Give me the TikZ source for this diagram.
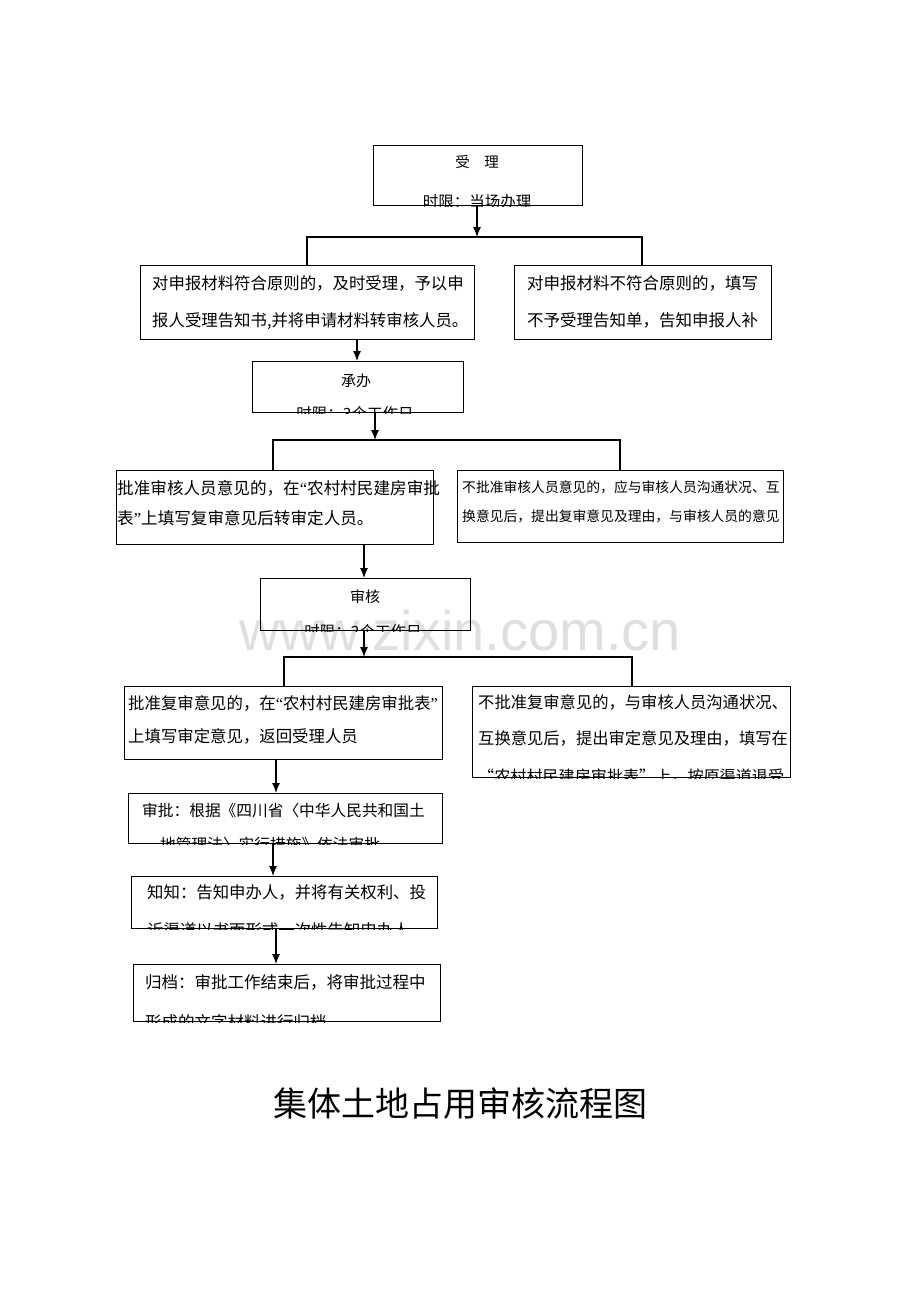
\documentclass[tikz,border=0pt]{standalone}
\usepackage{fontspec}
\usetikzlibrary{arrows.meta}
\newfontfamily\cjk{Noto Sans CJK SC}
\newfontfamily\lat{Liberation Serif}
\newfontfamily\wmf{Liberation Sans}
\newcommand\fsz[1]{\fontsize{#1}{#1}\selectfont}
\begin{document}
\begin{tikzpicture}[x=1pt,y=-1pt,
  box/.style={draw, line width=1.2pt, inner sep=0, anchor=north west},
  txt/.style={inner sep=0, anchor=base west},
  ctxt/.style={inner sep=0, anchor=base},
  arr/.style={line width=1.2pt, -{Latex[length=10pt,width=8pt]}},
  ln/.style={line width=1.2pt}]
\useasboundingbox (0,0) rectangle (920,1302);

% watermark
\node[ctxt, text=gray!25, font={\wmf\fsz{56}}] (wm) at (460,650) {www.zixin.com.cn};

% boxes
\node[box, minimum width=209pt, minimum height=60pt] (b1) at (373,145) {};
\node[box, minimum width=334pt, minimum height=74pt] (b2) at (140,265) {};
\node[box, minimum width=257pt, minimum height=74pt] (b3) at (514,265) {};
\node[box, minimum width=211pt, minimum height=51pt] (b4) at (252,361) {};
\node[box, minimum width=317pt, minimum height=74pt] (b5) at (116,470) {};
\node[box, minimum width=326pt, minimum height=72pt] (b6) at (457,470) {};
\node[box, minimum width=210pt, minimum height=52pt] (b7) at (260,578) {};
\node[box, minimum width=318pt, minimum height=73pt] (b8) at (124,686) {};
\node[box, minimum width=318pt, minimum height=91pt] (b9) at (472,686) {};
\node[box, minimum width=314pt, minimum height=50pt] (b10) at (128,793) {};
\node[box, minimum width=306pt, minimum height=52pt] (b11) at (131,876) {};
\node[box, minimum width=307pt, minimum height=57pt] (b12) at (133,964) {};

% texts
\begin{scope}
\clip (b1.north west) rectangle (b1.south east);
\node[ctxt, font={\cjk\fsz{14.5}}] (t1a) at (477,167.5) {受\hspace{1em}理};
\node[ctxt, font={\cjk\fsz{15.5}}] (t1b) at (477,207) {时限：当场办理};
\end{scope}

\node[txt, font={\cjk\fsz{16.4}}] (t2a) at (152,289) {对申报材料符合原则的，及时受理，予以申};
\node[txt, font={\cjk\fsz{16.4}}] (t2b) at (152,326) {报人受理告知书,并将申请材料转审核人员。};

\node[txt, font={\cjk\fsz{16.5}}] (t3a) at (527,289) {对申报材料不符合原则的，填写};
\node[txt, font={\cjk\fsz{16.5}}] (t3b) at (527,326) {不予受理告知单，告知申报人补};

\begin{scope}
\clip (b4.north west) rectangle (b4.south east);
\node[ctxt, font={\cjk\fsz{15}}] (t4a) at (356,386) {承办};
\node[ctxt, font={\cjk\fsz{15.5}}] (t4b) at (355,419) {时限：3个工作日};
\end{scope}

\node[txt, font={\cjk\fsz{16.6}}] (t5a) at (117,494) {批准审核人员意见的，在{\lat “}农村村民建房审批};
\node[txt, font={\cjk\fsz{16.6}}] (t5b) at (117,524) {表{\lat ”}上填写复审意见后转审定人员。};

\node[txt, font={\cjk\fsz{13.8}}] (t6a) at (462,492) {不批准审核人员意见的，应与审核人员沟通状况、互};
\node[txt, font={\cjk\fsz{13.8}}] (t6b) at (462,521) {换意见后，提出复审意见及理由，与审核人员的意见};

\begin{scope}
\clip (b7.north west) rectangle (b7.south east);
\node[ctxt, font={\cjk\fsz{15}}] (t7a) at (365,602) {审核};
\node[ctxt, font={\cjk\fsz{15.5}}] (t7b) at (363,637) {时限：2个工作日};
\end{scope}

\node[txt, font={\cjk\fsz{16.4}}] (t8a) at (128,709) {批准复审意见的，在{\lat “}农村村民建房审批表{\lat ”}};
\node[txt, font={\cjk\fsz{16.4}}] (t8b) at (128,742) {上填写审定意见，返回受理人员};

\begin{scope}
\clip (b9.north west) rectangle (b9.south east);
\node[txt, font={\cjk\fsz{16.3}}] (t9a) at (478,708) {不批准复审意见的，与审核人员沟通状况、};
\node[txt, font={\cjk\fsz{16.3}}] (t9b) at (478,744) {互换意见后，提出审定意见及理由，填写在};
\node[txt, font={\cjk\fsz{16.1}}] (t9c) at (478,782) {“农村村民建房审批表”上，按原渠道退受};
\end{scope}

\begin{scope}
\clip (b10.north west) rectangle (b10.south east);
\node[txt, font={\cjk\fsz{15.7}}] (t10a) at (142,816) {审批：根据《四川省〈中华人民共和国土};
\node[txt, font={\cjk\fsz{15.7}}] (t10b) at (160,850) {地管理法〉实行措施》依法审批};
\end{scope}

\begin{scope}
\clip (b11.north west) rectangle (b11.south east);
\node[txt, font={\cjk\fsz{16.4}}] (t11a) at (147,898) {知知：告知申办人，并将有关权利、投};
\node[txt, font={\cjk\fsz{16.4}}] (t11b) at (147,936) {诉渠道以书面形式一次性告知申办人};
\end{scope}

\begin{scope}
\clip (b12.north west) rectangle (b12.south east);
\node[txt, font={\cjk\fsz{16.5}}] (t12a) at (145,988) {归档：审批工作结束后，将审批过程中};
\node[txt, font={\cjk\fsz{16.5}}] (t12b) at (145,1028) {形成的文字材料进行归档};
\end{scope}

% title
\node[ctxt, font={\cjk\fsz{34}}] (title) at (460,1116) {集体土地占用审核流程图};

% connectors
\coordinate (s1) at (477,237);
\coordinate (s1L) at (307,237);
\coordinate (s1R) at (642,237);
\draw[arr] (s1 |- b1.south) -- (s1);
\draw[ln] (s1L |- b2.north) -- (s1L) -- (s1R) -- (s1R |- b3.north);

\coordinate (a2) at (357,0);
\draw[arr] (a2 |- b2.south) -- (a2 |- b4.north);

\coordinate (s2) at (375,440);
\coordinate (s2L) at (273,440);
\coordinate (s2R) at (620,440);
\draw[arr] (s2 |- b4.south) -- (s2);
\draw[ln] (s2L |- b5.north) -- (s2L) -- (s2R) -- (s2R |- b6.north);

\coordinate (a3) at (364,0);
\draw[arr] (a3 |- b5.south) -- (a3 |- b7.north);

\coordinate (s3) at (364,657);
\coordinate (s3L) at (284,657);
\coordinate (s3R) at (632,657);
\draw[arr] (s3 |- b7.south) -- (s3);
\draw[ln] (s3L |- b8.north) -- (s3L) -- (s3R) -- (s3R |- b9.north);

\coordinate (a4) at (276,0);
\draw[arr] (a4 |- b8.south) -- (a4 |- b10.north);
\coordinate (a5) at (273,0);
\draw[arr] (a5 |- b10.south) -- (a5 |- b11.north);
\coordinate (a6) at (276,0);
\draw[arr] (a6 |- b11.south) -- (a6 |- b12.north);
\end{tikzpicture}
\end{document}
